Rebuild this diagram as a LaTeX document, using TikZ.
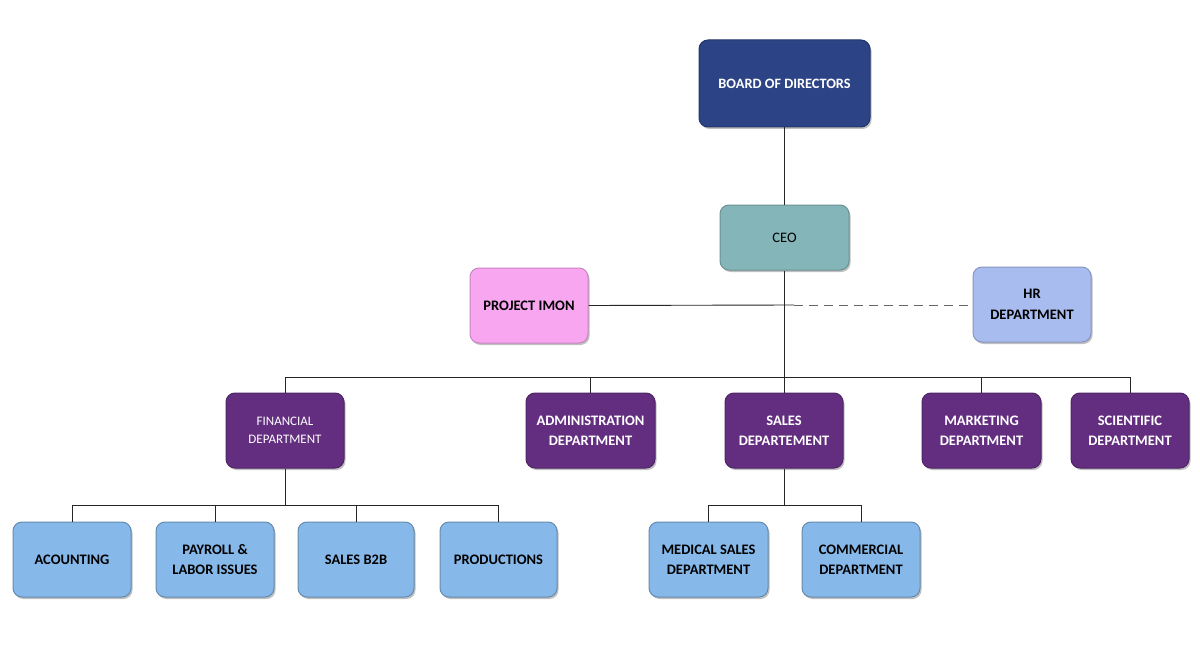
\documentclass[tikz,border=0pt]{standalone}
\usepackage{fontspec}
\setmainfont{Carlito}
\usetikzlibrary{shadows}
\definecolor{boardc}{HTML}{2C4485}
\definecolor{ceoc}{HTML}{84B6B9}
\definecolor{projc}{HTML}{F9A6F1}
\definecolor{hrc}{HTML}{A9BCEF}
\definecolor{purc}{HTML}{632E80}
\definecolor{lbc}{HTML}{86B9EA}
\tikzset{
  box/.style={rounded corners=9pt, align=center, inner sep=0pt, line width=1pt,
    drop shadow={shadow xshift=1.5pt, shadow yshift=-2pt, opacity=0.35, fill=black!70}},
  boardbox/.style={box, fill=boardc, draw=boardc!80!black, text=white, minimum width=171pt, minimum height=87pt, font=\fontsize{14.3}{17}\selectfont\bfseries},
  ceobox/.style={box, fill=ceoc, draw=ceoc!80!black, text=black, minimum width=129pt, minimum height=65pt, font=\fontsize{14.5}{17}\selectfont},
  projbox/.style={box, fill=projc, draw=projc!80!black, text=black, minimum width=118pt, minimum height=75pt, font=\fontsize{14.5}{17}\selectfont\bfseries},
  hrbox/.style={box, fill=hrc, draw=hrc!80!black, text=black, minimum width=118pt, minimum height=75pt, font=\fontsize{14.5}{21}\selectfont\bfseries},
  purbox/.style={box, fill=purc, draw=purc!80!black, text=white, minimum width=118pt, minimum height=75pt, font=\fontsize{14.5}{20}\selectfont\bfseries},
  lbbox/.style={box, fill=lbc, draw=lbc!75!black, text=black, minimum width=118pt, minimum height=75pt, font=\fontsize{14.5}{20}\selectfont\bfseries},
  conn/.style={draw=black!85, line width=0.9pt},
  dconn/.style={draw=black!60, line width=1pt, dash pattern=on 9pt off 6pt}
}
\begin{document}
\begin{tikzpicture}[x=1pt,y=-1pt]
\useasboundingbox[fill=white] (0,0) rectangle (1200,650);

\node[boardbox] (board) at (784.5,83.5) {BOARD OF DIRECTORS};
\node[ceobox] (ceo) at (784.5,237.5) {CEO};
\node[projbox] (proj) at (529,305.5) {PROJECT IMON};
\node[hrbox] (hr) at (1032,304.5) {HR\\DEPARTMENT};

\node[purbox, font=\fontsize{13}{18.4}\selectfont] (fin) at (285,430.5) {FINANCIAL\\DEPARTMENT};
\node[purbox, minimum width=129pt] (adm) at (590.5,430.5) {ADMINISTRATION\\DEPARTMENT};
\node[purbox] (sal) at (784,430.5) {SALES\\DEPARTEMENT};
\node[purbox, minimum width=119pt] (mkt) at (981.5,430.5) {MARKETING\\DEPARTMENT};
\node[purbox] (sci) at (1130,430.5) {SCIENTIFIC\\DEPARTMENT};

\node[lbbox] (acc) at (72,559.5) {ACOUNTING};
\node[lbbox] (pay) at (215,559.5) {PAYROLL \&\\LABOR ISSUES};
\node[lbbox, minimum width=116pt] (b2b) at (356,559.5) {SALES B2B};
\node[lbbox, minimum width=117pt] (prod) at (498.5,559.5) {PRODUCTIONS};
\node[lbbox, minimum width=119pt] (med) at (708.5,559.5) {MEDICAL SALES\\DEPARTMENT};
\node[lbbox] (com) at (861,559.5) {COMMERCIAL\\DEPARTMENT};

% connectors
\draw[conn] (board.south) -- (ceo.north);
\coordinate (bus) at (784.5,377);
\coordinate (jn) at (794,305);
\draw[conn] (ceo.south) -- (bus);
\draw[conn] (proj.east) -- (jn);
\draw[dconn] (jn) -- (hr.west |- jn);
\draw[conn] (fin.north) |- (bus);
\draw[conn] (adm.north) |- (bus);
\draw[conn] (sal.north) |- (bus);
\draw[conn] (mkt.north) |- (bus);
\draw[conn] (sci.north) |- (bus);

\coordinate (fbus) at (285,505);
\draw[conn] (fin.south) -- (fbus);
\draw[conn] (acc.north) |- (fbus);
\draw[conn] (pay.north) |- (fbus);
\draw[conn] (b2b.north) |- (fbus);
\draw[conn] (prod.north) |- (fbus);

\coordinate (sbus) at (784,505);
\draw[conn] (sal.south) -- (sbus);
\draw[conn] (med.north) |- (sbus);
\draw[conn] (com.north) |- (sbus);
\end{tikzpicture}
\end{document}
